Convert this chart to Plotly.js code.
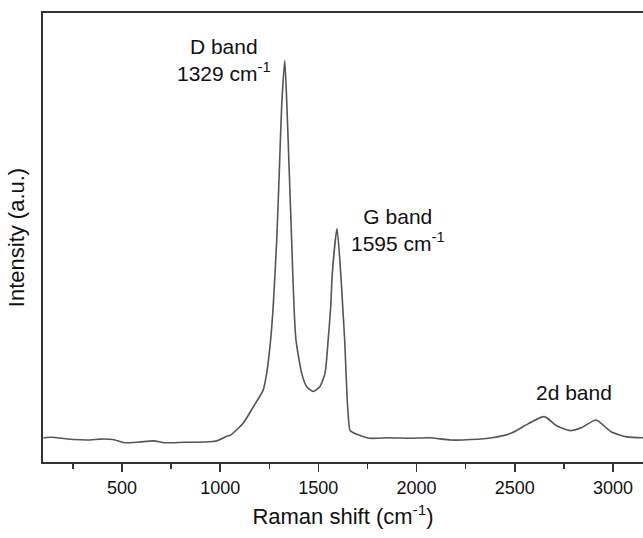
<!DOCTYPE html>
<html>
<head>
<meta charset="utf-8">
<script src="https://cdn.plot.ly/plotly-3.0.1.min.js"></script>
<style>html,body{margin:0;padding:0;background:#fff;}#chart{width:643px;height:538px;}</style>
</head>
<body>
<div id="chart"></div>
<script>
// Raman shift (cm^-1)
const ramanShift = [100, 138, 256, 337, 388, 454, 515, 587, 662, 714, 817, 922, 985, 1037, 1050, 1118, 1169, 1219, 1237, 1257, 1270, 1288, 1301, 1313, 1329, 1340, 1352, 1364, 1376, 1386, 1415, 1440, 1474, 1508, 1534, 1550, 1563, 1571, 1595, 1614, 1624, 1634, 1641, 1649, 1661, 1678, 1760, 1860, 1966, 2068, 2175, 2278, 2384, 2486, 2572, 2650, 2716, 2781, 2842, 2914, 2990, 3071, 3153];
// Intensity (a.u.)
const intensity = [5.4, 5.5, 5.0, 4.9, 5.1, 5.0, 4.3, 4.45, 4.7, 4.3, 4.4, 4.45, 4.75, 5.8, 5.9, 8.7, 12.3, 16.0, 19.8, 27.2, 34.6, 49.4, 64.4, 79.1, 89.4, 79.1, 64.4, 49.4, 34.6, 27.2, 19.8, 16.8, 15.7, 16.8, 19.8, 27.2, 34.6, 42.0, 52.0, 42.0, 34.6, 27.2, 19.8, 12.3, 7.1, 6.5, 5.3, 5.4, 5.3, 5.4, 4.9, 5.0, 5.4, 6.5, 8.6, 10.1, 8.0, 7.0, 7.7, 9.35, 6.75, 5.6, 5.4];
const tickVals = [500, 1000, 1500, 2000, 2500, 3000];
const tickText = ["500", "1000", "1500", "2000", "2500", "3000"];
const bandLabels = ["D band<br>1329 cm<sup>-1</sup>", "G band<br>1595 cm<sup>-1</sup>", "2d band"];
const bandLabelX = [1019, 1905, 2802];
const bandLabelY = [89.6, 51.7, 15.4];

const font = "Arial, 'Liberation Sans', sans-serif";

const trace = {
  x: ramanShift, y: intensity, type: 'scatter', mode: 'lines',
  line: {color: '#555555', width: 1.6, shape: 'spline', smoothing: 0.6},
  hoverinfo: 'skip'
};

const annotations = bandLabels.map((t, i) => ({
  x: bandLabelX[i], y: bandLabelY[i], xref: 'x', yref: 'y', text: t,
  showarrow: false, font: {family: font, size: 21, color: '#111'}, align: 'center'
}));

const layout = {
  width: 643, height: 538,
  margin: {l: 43, r: 0, t: 13, b: 76},
  paper_bgcolor: '#fff', plot_bgcolor: '#fff',
  showlegend: false,
  xaxis: {
    range: [98, 3153], showgrid: false, zeroline: false,
    showline: true, linecolor: '#333', linewidth: 2, mirror: true,
    ticks: 'outside', ticklen: 8, tickwidth: 1.5, tickcolor: '#333',
    tickvals: tickVals, ticktext: tickText,
    tickfont: {family: font, size: 18, color: '#111'},
    minor: {dtick: 250, tick0: 0, ticks: 'outside', ticklen: 5, tickwidth: 1.5, tickcolor: '#333', showgrid: false},
    title: {text: 'Raman shift (cm<sup>-1</sup>)', font: {family: font, size: 22, color: '#111'}, standoff: 12}
  },
  yaxis: {
    range: [0, 100], showgrid: false, zeroline: false,
    showline: true, linecolor: '#333', linewidth: 2, mirror: false,
    ticks: '', showticklabels: false,
    title: {text: 'Intensity (a.u.)', font: {family: font, size: 22, color: '#111'}, standoff: 10}
  },
  annotations: annotations
};

Plotly.newPlot('chart', [trace], layout, {displayModeBar: false, staticPlot: true});
</script>
</body>
</html>
